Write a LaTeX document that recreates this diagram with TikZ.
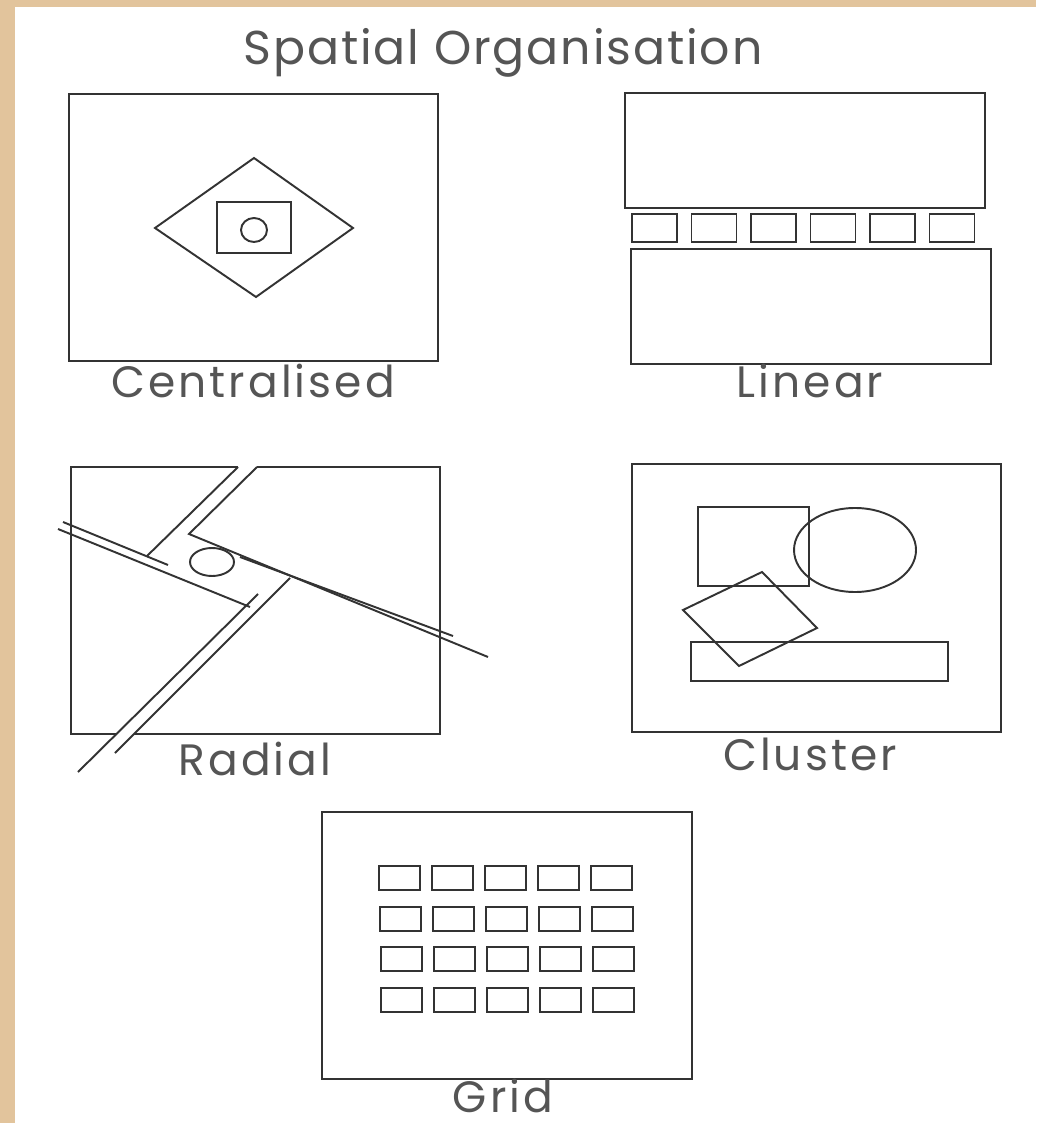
\documentclass[tikz,border=0pt]{standalone}
\usepackage{fontspec}
\setmainfont{Poppins}[LetterSpace=4]
\newfontfamily\labelfont{Poppins}[LetterSpace=7]
\usepackage{tikz}
\definecolor{sandtan}{HTML}{E2C49C}
\definecolor{inkgrey}{HTML}{333333}
\definecolor{textgrey}{HTML}{555555}

\begin{document}
\begin{tikzpicture}[x=0.1mm,y=-0.1mm,
  plan/.style={draw=inkgrey,line width=0.55pt},
  caption/.style={anchor=base,text=textgrey,inner sep=0pt,text depth=0pt,font=\labelfont\fontsize{12.5}{14}\selectfont}]
  \fill[white] (0,0) rectangle (1036,1123);
  \fill[sandtan] (0,0) rectangle (1036,7);
  \fill[sandtan] (0,0) rectangle (15,1123);
  \useasboundingbox (0,0) rectangle (1036,1123);

  \node[caption,font=\fontsize{13.5}{15}\selectfont] (title) at (503,65) {Spatial Organisation};

  % centralised
  \draw[plan] (69,94) rectangle (438,361);
  \draw[plan] (254,158) -- (353,228) -- (256,297) -- (155,228) -- cycle;
  \draw[plan] (217,202) rectangle (291,253);
  \draw[plan] (254,230) ellipse [x radius=13,y radius=12];
  \node[caption] (centralised) at (253,398) {Centralised};

  % linear
  \draw[plan] (625,93) rectangle (985,208);
  \foreach \i in {0,...,5}
    \draw[plan] ({632+59.5*\i},214) rectangle ++(45,28);
  \draw[plan] (631,249) rectangle (991,364);
  \node[caption] (linear) at (810,398) {Linear};

  % radial
  \draw[plan] (238,467) -- (71,467) -- (71,734) -- (116,734);
  \draw[plan] (134,734) -- (440,734) -- (440,467) -- (257,467);
  \draw[plan] (63,522) -- (168,565);
  \draw[plan] (58,529) -- (250,607);
  \draw[plan] (238,467) -- (147,556);
  \draw[plan] (257,467) -- (189,534) -- (488,657);
  \draw[plan] (240,557) -- (453,636);
  \draw[plan] (258,594) -- (78,772);
  \draw[plan] (290,578) -- (115,753);
  \draw[plan] (212,562) ellipse [x radius=22,y radius=14];
  \node[caption] (radial) at (255,775) {Radial};

  % cluster
  \draw[plan] (632,464) rectangle (1001,732);
  \draw[plan] (698,507) rectangle (809,586);
  \draw[plan] (855,550) ellipse [x radius=61,y radius=42];
  \draw[plan] (683,610) -- (762,572) -- (817,628) -- (739,666) -- cycle;
  \draw[plan] (691,642) rectangle (948,681);
  \node[caption] (cluster) at (810,770) {Cluster};

  % grid
  \draw[plan] (322,812) rectangle (692,1079);
  \foreach \r in {0,...,3}
    \foreach \c in {0,...,4}
      \draw[plan] ({379+53*\c+0.8*\r},{866+40.7*\r}) rectangle ++(41,24);
  \node[caption] (grid) at (503,1112) {Grid};
\end{tikzpicture}
\end{document}
